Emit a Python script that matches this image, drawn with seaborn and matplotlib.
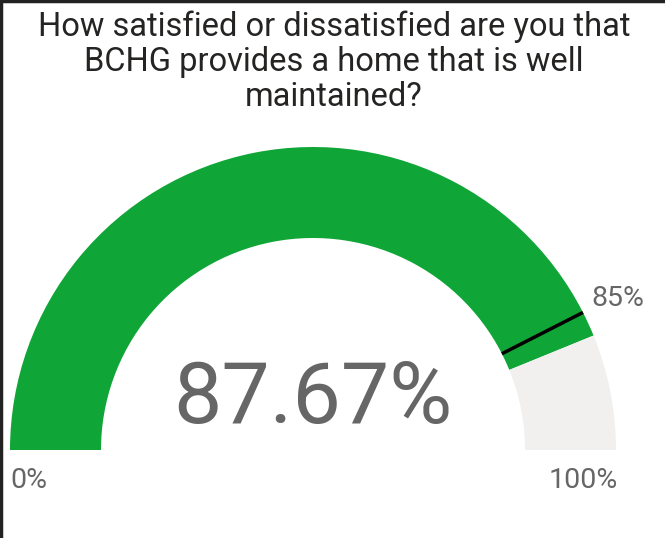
import matplotlib
matplotlib.use("Agg")
import matplotlib.pyplot as plt
import seaborn as sns
import numpy as np
from matplotlib.patches import Wedge

sns.set_theme(style="white")
plt.rcParams['font.family'] = ['Roboto', 'DejaVu Sans']

# Data
title = "How satisfied or dissatisfied are you that\nBCHG provides a home that is well\nmaintained?"
value = 87.67
target = 85.0
gauge_min = 0
gauge_max = 100

fill_color = '#10A537'
empty_color = '#F1F0EF'
text_color = '#666666'

fig = plt.figure(figsize=(6.65, 5.38), dpi=100)
ax = fig.add_axes([0, 0, 1, 1])
ax.set_xlim(0, 665)
ax.set_ylim(0, 538)
ax.axis('off')

cx, cy = 313, 88
r_out, r_in = 303, 212


def frac_to_angle(v):
    return 180 - (v - gauge_min) / (gauge_max - gauge_min) * 180


a_val = frac_to_angle(value)
ax.add_patch(Wedge((cx, cy), r_out, a_val, 180, width=r_out - r_in,
                   facecolor=fill_color, edgecolor='none'))
ax.add_patch(Wedge((cx, cy), r_out, 0, a_val, width=r_out - r_in,
                   facecolor=empty_color, edgecolor='none'))

# target marker
a_t = np.deg2rad(frac_to_angle(target))
ax.plot([cx + r_in * np.cos(a_t), cx + r_out * np.cos(a_t)],
        [cy + r_in * np.sin(a_t), cy + r_out * np.sin(a_t)],
        color='black', lw=2.5, solid_capstyle='butt')
ax.text(cx + (r_out - 24) * np.cos(a_t) + 30, cy + r_out * np.sin(a_t) + 14,
        f"{target:.0f}%", fontsize=20.5, color=text_color, ha='left', va='center')

# value
ax.text(cx, cy + 50, f"{value:.2f}%", fontsize=62, color=text_color,
        ha='center', va='center', fontweight='normal')

# min / max labels
ax.text(cx - r_out, cy - 30, f"{gauge_min}%", fontsize=20.5, color=text_color,
        ha='left', va='center')
ax.text(cx + r_out + 2, cy - 30, f"{gauge_max}%", fontsize=20.5, color=text_color,
        ha='right', va='center')

# title
fig.text(334 / 665, 1 - 62 / 538, title, fontsize=23.5, color='#252423',
         ha='center', va='center', linespacing=1.12, fontweight='normal')

# border on top and left
ax.plot([1, 1], [0, 538], color='#222222', lw=2.5)
ax.plot([0, 665], [537, 537], color='#222222', lw=2.5)

fig.savefig('out.png', dpi=100)
